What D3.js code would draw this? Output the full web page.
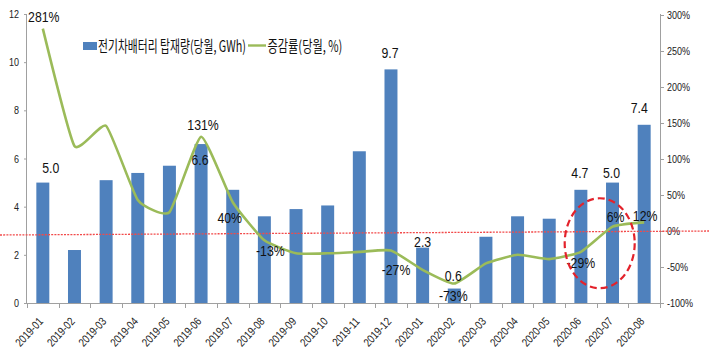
<!DOCTYPE html>
<html><head><meta charset="utf-8">
<script src="https://cdn.jsdelivr.net/npm/d3@7"></script>
<style>
html,body{margin:0;padding:0;background:#fff;}
svg{display:block;}
text{font-family:"Liberation Sans Narrow","Arial Narrow","Liberation Sans",Arial,sans-serif;}
</style></head>
<body><svg id="c" width="709" height="364"></svg>
<script>
const categories = ["2019-01","2019-02","2019-03","2019-04","2019-05","2019-06","2019-07","2019-08","2019-09","2019-10","2019-11","2019-12","2020-01","2020-02","2020-03","2020-04","2020-05","2020-06","2020-07","2020-08"];
const batteryGWh = [5.0,2.2,5.1,5.4,5.7,6.6,4.7,3.6,3.9,4.05,6.3,9.7,2.3,0.6,2.75,3.6,3.5,4.7,5.0,7.4];
const growthPct = [281,118,146,43,26,131,40,-13,-31,-31,-29,-27,-54,-73,-45,-33,-39,-29,6,12];
const leftTicks = [0,2,4,6,8,10,12];
const rightTicks = [-100,-50,0,50,100,150,200,250,300];
const seriesNames = ["전기차배터리 탑재량(당월, GWh)","증감률(당월, %)"];
// labelled points: [category index, text]
const barLabels = [[0,"5.0"],[5,"6.6"],[11,"9.7"],[12,"2.3"],[13,"0.6"],[17,"4.7"],[18,"5.0"],[19,"7.4"]];
const lineLabels = [[0,"281%"],[5,"131%"],[6,"40%"],[7,"-13%"],[11,"-27%"],[13,"-73%"],[17,"-29%"],[18,"6%"],[19,"12%"]];
// label nudges (layout, not data)
const barLabelNudge = [[8,-10],[-1,21],[-1,-11],[0,-1],[-1,-8],[-1,-12],[-1,-5],[-5,-12]];
const lineLabelNudge = [[1,-7],[2,-7],[-3,21],[6,16],[5,25],[-1,17],[0,16],[3,-5],[1,-1]];

const svg = d3.select("#c");
const L = 27, R = 660, T = 14, B = 303;
const p = 0.59;
const NAR = 0.82; // horizontal condensing to mimic a narrow face
const x = d3.scaleBand().domain(categories).range([L,R]).paddingInner(p).paddingOuter(p/2);
const yL = d3.scaleLinear().domain([0,12]).range([B,T]);
const yR = d3.scaleLinear().domain([-100,300]).range([B,T+1]);
const bw = x.bandwidth(), step = x.step();
const cx = d => x(d) + bw/2;

function txt(g, tx, ty, s, opts) {
  const o = Object.assign({size:11, anchor:"middle", fill:"#222", rot:0, sx:NAR}, opts||{});
  return g.append("text").attr("transform",`translate(${tx},${ty}) rotate(${o.rot}) scale(${o.sx},1)`)
    .attr("font-size",o.size).attr("fill",o.fill).attr("text-anchor",o.anchor).text(s);
}

// bars
svg.append("g").selectAll("rect").data(categories).join("rect")
  .attr("x", d => x(d)).attr("width", bw)
  .attr("y", (d,i) => yL(batteryGWh[i])).attr("height", (d,i) => B - yL(batteryGWh[i]))
  .attr("fill", "#4f81bd");

// axes lines
const axc = "#a0a0a0";
svg.append("line").attr("x1",L-0.5).attr("x2",L-0.5).attr("y1",T).attr("y2",B).attr("stroke",axc);
svg.append("line").attr("x1",R+0.5).attr("x2",R+0.5).attr("y1",T).attr("y2",B).attr("stroke",axc);
svg.append("line").attr("x1",L).attr("x2",R).attr("y1",B+0.5).attr("y2",B+0.5).attr("stroke",axc);

// left ticks
const gl = svg.append("g");
leftTicks.forEach(t => {
  gl.append("line").attr("x1",L-3).attr("x2",L).attr("y1",yL(t)+0.5).attr("y2",yL(t)+0.5).attr("stroke",axc);
  txt(gl, L-8, yL(t)+4, t, {anchor:"end"});
});
// right ticks
const gr = svg.append("g");
rightTicks.forEach(t => {
  gr.append("line").attr("x1",R).attr("x2",R+4).attr("y1",yR(t)+0.5).attr("y2",yR(t)+0.5).attr("stroke",axc);
  txt(gr, R+7, yR(t)+4, t+"%", {anchor:"start"});
});
// bottom ticks & labels
const gb = svg.append("g");
categories.forEach((c,i) => {
  const bx = Math.round(x(c) - step*p/2) + 0.5;
  gb.append("line").attr("x1",bx).attr("x2",bx).attr("y1",B).attr("y2",B+5).attr("stroke",axc);
  txt(gb, cx(c)+1, B+19, c, {anchor:"end", rot:-47, size:11.5});
});
const lastB = Math.round(x(categories[categories.length-1]) + bw + step*p/2) + 0.5;
gb.append("line").attr("x1",lastB).attr("x2",lastB).attr("y1",B).attr("y2",B+5).attr("stroke",axc);

// red dotted zero line
svg.append("line").attr("x1",0).attr("x2",709).attr("y1",yR(0)+4).attr("y2",yR(0))
  .attr("stroke","#f24a4a").attr("stroke-width",1.3).attr("stroke-dasharray","2 1.2");

// growth line
const line = d3.line().x((d,i) => cx(categories[i])).y(d => yR(d)).curve(d3.curveCardinal.tension(0.55));
svg.append("path").attr("d", line(growthPct)).attr("fill","none")
  .attr("stroke","#9bbb59").attr("stroke-width",2.6).attr("stroke-linejoin","round");

// labels
const gt = svg.append("g");
barLabels.forEach(([i,t],k) => {
  txt(gt, cx(categories[i]) + barLabelNudge[k][0], yL(batteryGWh[i]) + barLabelNudge[k][1], t, {size:15, fill:"#111"});
});
lineLabels.forEach(([i,t],k) => {
  txt(gt, cx(categories[i]) + lineLabelNudge[k][0], yR(growthPct[i]) + lineLabelNudge[k][1], t, {size:15, fill:"#111"});
});

// red dashed ellipse
const ex = (cx(categories[17]) + cx(categories[18]))/2 + 3;
svg.append("ellipse").attr("cx", ex).attr("cy", yR(-17)).attr("rx", 35).attr("ry", 45)
  .attr("fill","none").attr("stroke","#e3222b").attr("stroke-width",2.2).attr("stroke-dasharray","7 4");

// legend
const lg = svg.append("g");
lg.append("rect").attr("x",83).attr("y",42).attr("width",14).attr("height",8).attr("fill","#4f81bd");
lg.append("line").attr("x1",248).attr("x2",266).attr("y1",45.5).attr("y2",45.5).attr("stroke","#9bbb59").attr("stroke-width",2.4);
function fitText(tx, ty, s, w) {
  const t = lg.append("text").style("font-family","'Noto Sans CJK KR',sans-serif")
    .attr("font-size",15.5).attr("fill","#111").text(s);
  const len = t.node().getComputedTextLength();
  t.attr("transform",`translate(${tx},${ty}) scale(${w/len},1)`);
}
fitText(98, 51.5, seriesNames[0], 148);
fitText(267.5, 51.5, seriesNames[1], 75);
</script></body></html>
